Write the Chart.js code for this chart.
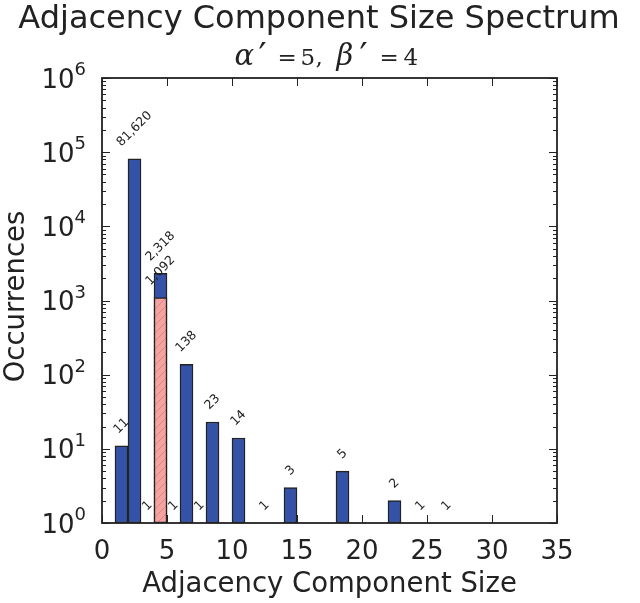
<!DOCTYPE html>
<html><head><meta charset="utf-8">
<script src="https://cdn.jsdelivr.net/npm/chart.js@4.4.0/dist/chart.umd.min.js"></script>
<style>html,body{margin:0;padding:0;background:#fff;}canvas{display:block;}</style>
</head><body>
<canvas id="c" width="640" height="603"></canvas>
<script>
const titleText = 'Adjacency Component Size Spectrum';
const xTitle = 'Adjacency Component Size';
const yTitle = 'Occurrences';
const sizes = [1, 2, 3, 4, 5, 6, 7, 8, 10, 12, 14, 18, 22, 24, 26];
const counts = [11, 81620, 1, 2318, 1, 138, 1, 23, 14, 1, 3, 5, 2, 1, 1];
const highlightSizes = [4];
const highlightCounts = [1092];
const xTicks = [0, 5, 10, 15, 20, 25, 30, 35];
const yExponents = [0, 1, 2, 3, 4, 5, 6];

function hatchPattern() {
  const c = document.createElement('canvas');
  c.width = 8; c.height = 8;
  const g = c.getContext('2d');
  g.fillStyle = '#f4a3a3';
  g.fillRect(0, 0, 8, 8);
  g.strokeStyle = 'rgba(215,105,105,0.55)';
  g.lineWidth = 1;
  g.beginPath();
  g.moveTo(0, 8); g.lineTo(8, 0);
  g.moveTo(-1, 1); g.lineTo(1, -1);
  g.moveTo(7, 9); g.lineTo(9, 7);
  g.stroke();
  return g.createPattern(c, 'repeat');
}

function line(ctx, x1, y1, x2, y2) {
  ctx.beginPath(); ctx.moveTo(x1, y1); ctx.lineTo(x2, y2); ctx.stroke();
}

function rotLabel(ctx, text, cx, topY) {
  ctx.font = '12.5px "DejaVu Sans"';
  const w = ctx.measureText(text).width, h = 9;
  const off = 11 + (w + h) / (2 * Math.SQRT2);
  ctx.save();
  ctx.translate(cx, topY - off);
  ctx.rotate(-Math.PI / 4);
  ctx.textAlign = 'center';
  ctx.textBaseline = 'middle';
  ctx.fillStyle = '#222';
  ctx.fillText(text, 0, 0);
  ctx.restore();
}

const deco = {
  id: 'deco',
  beforeDraw(chart) {
    const ctx = chart.ctx;
    ctx.save(); ctx.fillStyle = '#fff'; ctx.fillRect(0, 0, chart.width, chart.height); ctx.restore();
  },
  afterDatasetsDraw(chart) {
    const { ctx, chartArea: a, scales: { x, y } } = chart;
    ctx.save();
    ctx.strokeStyle = '#222';
    ctx.lineWidth = 1;
    xTicks.forEach(v => {
      const px = Math.round(x.getPixelForValue(v)) + 0.5;
      line(ctx, px, a.bottom, px, a.bottom - 8);
      line(ctx, px, a.top, px, a.top + 8);
    });
    yExponents.forEach(e => {
      const py = Math.round(y.getPixelForValue(Math.pow(10, e))) + 0.5;
      line(ctx, a.left, py, a.left + 8, py);
      line(ctx, a.right, py, a.right - 8, py);
      if (e < 6) {
        for (let m = 2; m <= 9; m++) {
          const p2 = Math.round(y.getPixelForValue(m * Math.pow(10, e))) + 0.5;
          line(ctx, a.left, p2, a.left + 4, p2);
          line(ctx, a.right, p2, a.right - 4, p2);
        }
      }
    });
    ctx.lineWidth = 1.8;
    ctx.strokeRect(a.left, a.top, a.right - a.left, a.bottom - a.top);

    ctx.fillStyle = '#222';
    ctx.font = '26px "DejaVu Sans"';
    ctx.textAlign = 'center';
    ctx.textBaseline = 'alphabetic';
    xTicks.forEach(v => ctx.fillText(String(v), x.getPixelForValue(v), 559));
    yExponents.forEach(e => {
      const py = y.getPixelForValue(Math.pow(10, e));
      ctx.font = '18px "DejaVu Sans"';
      ctx.textAlign = 'right';
      const supRight = a.left - 16;
      const sw = ctx.measureText(String(e)).width;
      ctx.fillText(String(e), supRight, py - 3);
      ctx.font = '26px "DejaVu Sans"';
      ctx.fillText('10', supRight - sw, py + 9.5);
    });
    ctx.textAlign = 'center';
    ctx.font = '27.5px "DejaVu Sans"';
    ctx.fillText(xTitle, (a.left + a.right) / 2, 592);
    ctx.save();
    ctx.translate(24, (a.top + a.bottom) / 2 - 4);
    ctx.rotate(-Math.PI / 2);
    ctx.fillText(yTitle, 0, 0);
    ctx.restore();
    ctx.font = '32px "DejaVu Sans"';
    ctx.fillText(titleText, 319, 28);
    // subtitle glyphs placed relative to the axes centre
    const cx = (a.left + a.right) / 2;
    const pieces = [
      ['italic 29px', 'α', -95, 65], ['36px', '′', -71, 68], ['23px', '=', -52, 65], ['23px', '5', -29, 65],
      ['23px', ',', -14, 65], ['italic 29px', 'β', 7, 65], ['36px', '′', 30, 68], ['23px', '=', 50, 65], ['23px', '4', 74, 65]
    ];
    ctx.textAlign = 'left';
    pieces.forEach(p => {
      ctx.font = p[0] + ' "DejaVu Serif"';
      ctx.fillText(p[1], cx + p[2], p[3]);
    });

    chart.data.datasets.forEach((ds, di) => {
      const meta = chart.getDatasetMeta(di);
      meta.data.forEach((el, i) => {
        const v = ds.data[i].y;
        rotLabel(ctx, v.toLocaleString('en-US'), el.x, el.y);
      });
    });
    ctx.restore();
  }
};

new Chart(document.getElementById('c'), {
  type: 'bar',
  data: {
    datasets: [
      {
        data: highlightSizes.map((s, i) => ({ x: s + 0.5, y: highlightCounts[i] })),
        backgroundColor: hatchPattern(),
        borderColor: '#222',
        borderWidth: 1.5,
        borderSkipped: false,
        grouped: false,
        barPercentage: 1,
        categoryPercentage: 1
      },
      {
        data: sizes.map((s, i) => ({ x: s + 0.5, y: counts[i] })),
        backgroundColor: '#3352a8',
        borderColor: '#222',
        borderWidth: 1.5,
        borderSkipped: false,
        grouped: false,
        barPercentage: 1,
        categoryPercentage: 1
      }
    ]
  },
  options: {
    responsive: false,
    animation: false,
    devicePixelRatio: 1,
    layout: { padding: { left: 102, top: 78, right: 83, bottom: 80 } },
    plugins: { legend: { display: false }, tooltip: { enabled: false }, title: { display: false } },
    scales: {
      x: { type: 'linear', min: 0, max: 35, offset: false, display: false },
      y: { type: 'logarithmic', min: 1, max: 1e6, display: false }
    }
  },
  plugins: [deco]
});
</script>
</body></html>
